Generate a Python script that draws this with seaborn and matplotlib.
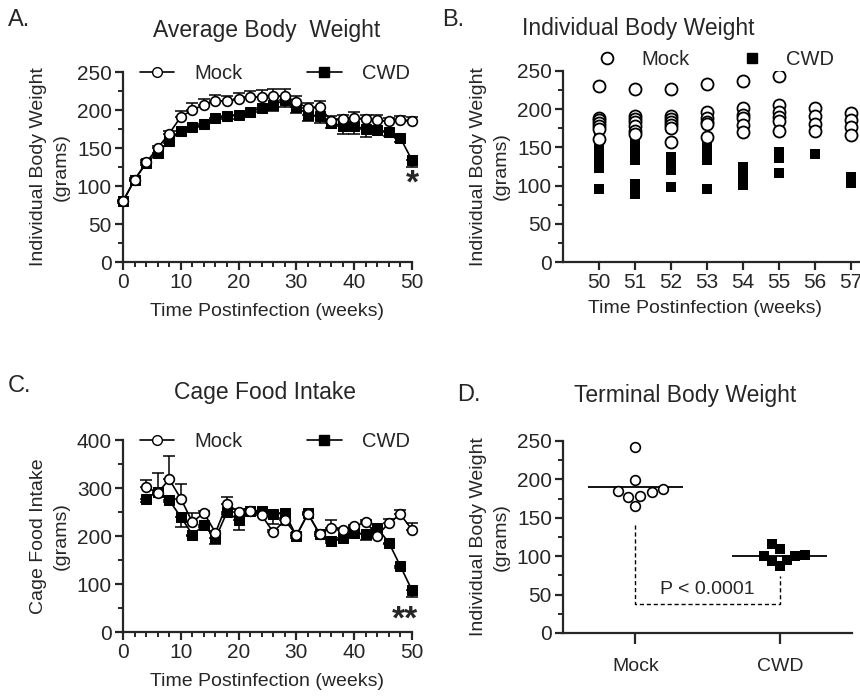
import matplotlib
matplotlib.use("Agg")
import matplotlib.pyplot as plt
from matplotlib.lines import Line2D
from matplotlib.ticker import MultipleLocator
import numpy as np
import pandas as pd
import seaborn as sns

# Panel A - average body weight (grams), one-sided SEM
weeks_a = list(range(0, 51, 2))
mock_a = [80, 108, 131, 150, 169, 191, 200, 207, 212, 212, 214, 217, 217, 218, 218, 211,
          202, 204, 186, 188, 190, 188, 187, 185, 187, 186]
mock_a_err = [2, 2, 3, 3, 4, 8, 9, 8, 8, 7, 8, 8, 9, 9, 9, 8, 7, 8, 6, 6, 7, 6, 6, 5, 5, 5]
cwd_a = [80, 108, 130, 144, 159, 173, 177, 181, 189, 192, 193, 197, 203, 207, 213, 204,
         194, 192, 183, 179, 179, 175, 174, 171, 163, 134]
cwd_a_err = [2, 2, 3, 3, 3, 4, 5, 4, 4, 4, 5, 5, 6, 8, 9, 8, 8, 9, 7, 10, 10, 10, 6, 5, 5, 9]

# Panel B - individual body weight at end point weeks
weeks_b = [50, 51, 52, 53, 54, 55, 56, 57]
mock_b = [
    [230, 189, 186, 182, 178, 174, 161],
    [227, 191, 187, 183, 178, 172, 168],
    [226, 191, 187, 183, 179, 175, 157],
    [233, 196, 189, 183, 180, 164],
    [237, 201, 193, 188, 179, 170],
    [243, 205, 196, 190, 185, 171],
    [201, 191, 181, 171],
    [195, 186, 177, 166],
]
cwd_b = [
    [176, 172, 154, 149, 144, 135, 123, 96],
    [159, 155, 146, 133, 102, 89],
    [137, 133, 120, 98],
    [157, 151, 145, 138, 133, 96],
    [124, 114, 101],
    [144, 136, 117],
    [141],
    [111, 104],
]

# Panel C - cage food intake (grams)
weeks_c = list(range(4, 51, 2))
mock_c = [302, 290, 318, 278, 229, 248, 207, 267, 250, 253, 243, 208, 233, 202, 246, 205,
          217, 213, 220, 229, 201, 227, 245, 213]
mock_c_err = [14, 42, 48, 31, 19, 4, 4, 15, 7, 3, 4, 4, 4, 4, 3, 3, 17, 3, 3, 4, 3, 8, 9, 14]
cwd_c = [278, 292, 274, 240, 203, 222, 195, 250, 233, 253, 253, 245, 248, 200, 247, 204,
         189, 195, 206, 205, 217, 186, 137, 87]
cwd_c_err = [8, 4, 4, 22, 4, 4, 12, 4, 20, 3, 3, 19, 25, 4, 3, 3, 4, 4, 4, 14, 3, 3, 4, 15]

# Panel D - terminal body weight
groups_d = ["Mock", "CWD"]
mock_d = [242, 199, 185, 179, 183, 187, 177, 165]
cwd_d = [100, 95, 116, 87, 110, 94, 100, 101]

sns.set_style("ticks")
plt.rcParams["font.family"] = ["Liberation Sans", "DejaVu Sans"]
plt.rcParams["axes.linewidth"] = 1.6

TICK_FS = 15
LABEL_FS = 14
TITLE_FS = 16.5
LETTER_FS = 17

fig = plt.figure(figsize=(8.6, 6.97), dpi=100)
W, H = 860, 697


def add_axes_px(left, top, right, bottom):
    return fig.add_axes([left / W, 1 - bottom / H, (right - left) / W, (bottom - top) / H])


def style_axes(ax):
    sns.despine(ax=ax)
    ax.tick_params(which="major", direction="out", length=6, width=1.6, labelsize=TICK_FS, pad=2)
    ax.tick_params(which="minor", direction="out", length=3.5, width=1.4)
    ax.set_facecolor("white")


def ylabel(ax, text):
    ax.set_ylabel(text, fontsize=LABEL_FS, labelpad=5, linespacing=1.45)


def timecourse(ax, weeks, mock, mock_err, cwd, cwd_err):
    weeks = np.array(weeks)
    ax.errorbar(weeks, mock, yerr=[np.zeros(len(mock)), mock_err], fmt="none",
                ecolor="black", elinewidth=1.1, capsize=4, capthick=1.1, zorder=2, clip_on=False)
    ax.errorbar(weeks, cwd, yerr=[cwd_err, np.zeros(len(cwd))], fmt="none",
                ecolor="black", elinewidth=1.1, capsize=4, capthick=1.1, zorder=2, clip_on=False)
    df_m = pd.DataFrame({"week": weeks, "value": mock})
    df_c = pd.DataFrame({"week": weeks, "value": cwd})
    sns.lineplot(data=df_c, x="week", y="value", ax=ax, color="black", lw=1.2,
                 marker="s", markersize=7, markerfacecolor="black", markeredgecolor="black",
                 zorder=3, clip_on=False)
    sns.lineplot(data=df_m, x="week", y="value", ax=ax, color="black", lw=1.2,
                 marker="o", markersize=7, markerfacecolor="white", markeredgecolor="black",
                 markeredgewidth=1.2, zorder=4, clip_on=False)
    handles = [
        Line2D([], [], color="black", lw=1.2, marker="o", markersize=7,
               markerfacecolor="white", markeredgecolor="black"),
        Line2D([], [], color="black", lw=1.2, marker="s", markersize=7,
               markerfacecolor="black", markeredgecolor="black"),
    ]
    ax.legend(handles, ["Mock", "CWD"], ncol=2, frameon=False, fontsize=14.5,
              loc="lower left", bbox_to_anchor=(0.03, 0.90, 0.99, 0.1), mode="expand",
              handlelength=1.7, handletextpad=1.0, borderaxespad=0)
    ax.set_xlim(0, 50)
    ax.xaxis.set_major_locator(MultipleLocator(10))
    ax.xaxis.set_minor_locator(MultipleLocator(2))
    ax.set_xlabel("Time Postinfection (weeks)", fontsize=LABEL_FS, labelpad=8)


# ---- Panel A ----
ax_a = add_axes_px(123, 72, 412, 262)
timecourse(ax_a, weeks_a, mock_a, mock_a_err, cwd_a, cwd_a_err)
ax_a.set_ylim(0, 250)
ax_a.yaxis.set_major_locator(MultipleLocator(50))
ax_a.yaxis.set_minor_locator(MultipleLocator(25))
ylabel(ax_a, "Individual Body Weight\n(grams)")
ax_a.text(50, 103, "*", ha="center", va="center", fontsize=24, fontweight="bold")
style_axes(ax_a)

# ---- Panel B ----
ax_b = add_axes_px(563, 71, 887, 262)
rows = []
for wk, vals in zip(weeks_b, mock_b):
    rows += [{"week": wk, "value": v, "group": "Mock"} for v in vals]
for wk, vals in zip(weeks_b, cwd_b):
    rows += [{"week": wk, "value": v, "group": "CWD"} for v in vals]
df_b = pd.DataFrame(rows)
sns.scatterplot(data=df_b[df_b.group == "Mock"], x="week", y="value", ax=ax_b, marker="o",
                s=75, facecolor="white", edgecolor="black", linewidth=1.3, zorder=3, legend=False)
sns.scatterplot(data=df_b[df_b.group == "CWD"], x="week", y="value", ax=ax_b, marker="s",
                s=60, color="black", edgecolor="black", linewidth=0, zorder=2, legend=False)
ax_b.set_xlim(49, 58)
ax_b.set_ylim(0, 250)
ax_b.set_xticks(weeks_b)
ax_b.yaxis.set_major_locator(MultipleLocator(50))
ax_b.yaxis.set_minor_locator(MultipleLocator(25))
ylabel(ax_b, "Individual Body Weight\n(grams)")
ax_b.set_xlabel("Time Postinfection (weeks)", fontsize=LABEL_FS)
ax_b.xaxis.set_label_coords((705 - 563) / (887 - 563), -0.2)
handles_b = [
    Line2D([], [], lw=0, marker="o", markersize=8.5, markerfacecolor="white",
           markeredgecolor="black", markeredgewidth=1.3),
    Line2D([], [], lw=0, marker="s", markersize=7.5, markerfacecolor="black",
           markeredgecolor="black"),
]
ax_b.legend(handles_b, ["Mock", "CWD"], ncol=2, frameon=False, fontsize=14.5,
            loc="center left", bbox_to_anchor=(0.08, 1.06), handlelength=1.0,
            columnspacing=2.6, handletextpad=1.2, borderaxespad=0)
style_axes(ax_b)

# ---- Panel C ----
ax_c = add_axes_px(123, 440, 412, 632)
timecourse(ax_c, weeks_c, mock_c, mock_c_err, cwd_c, cwd_c_err)
ax_c.set_ylim(0, 400)
ax_c.yaxis.set_major_locator(MultipleLocator(100))
ax_c.yaxis.set_minor_locator(MultipleLocator(50))
ylabel(ax_c, "Cage Food Intake\n(grams)")
ax_c.text(48.7, 25, "**", ha="center", va="center", fontsize=24, fontweight="bold")
style_axes(ax_c)

# ---- Panel D ----
ax_d = add_axes_px(563, 441, 852, 633)
df_d = pd.DataFrame({
    "group": ["Mock"] * len(mock_d) + ["CWD"] * len(cwd_d),
    "value": mock_d + cwd_d,
})
sns.swarmplot(data=df_d[df_d.group == "Mock"], x="group", y="value", order=groups_d, ax=ax_d,
              marker="o", size=7, color="white", edgecolor="black", linewidth=1.2, zorder=3)
sns.swarmplot(data=df_d[df_d.group == "CWD"], x="group", y="value", order=groups_d, ax=ax_d,
              marker="s", size=6.5, color="black", linewidth=0, zorder=3)
for i, vals in enumerate([mock_d, cwd_d]):
    ax_d.hlines(np.mean(vals), i - 0.33, i + 0.33, color="black", lw=1.3, zorder=2)
ax_d.plot([0, 0, 1, 1], [140, 38, 38, 74], color="black", lw=1.0, ls=(0, (3, 2)))
ax_d.text(0.5, 46, "P < 0.0001", ha="center", va="bottom", fontsize=14)
ax_d.set_xlim(-0.5, 1.5)
ax_d.set_ylim(0, 250)
ax_d.yaxis.set_major_locator(MultipleLocator(50))
ax_d.yaxis.set_minor_locator(MultipleLocator(25))
ax_d.set_xlabel("")
ylabel(ax_d, "Individual Body Weight\n(grams)")
style_axes(ax_d)
ax_d.tick_params(axis="x", length=8, pad=10, labelsize=14)

# titles and panel letters
fig.text(267 / W, 1 - 30 / H, "Average Body  Weight", ha="center", va="center", fontsize=TITLE_FS)
fig.text(638 / W, 1 - 28 / H, "Individual Body Weight", ha="center", va="center", fontsize=TITLE_FS)
fig.text(265 / W, 1 - 393 / H, "Cage Food Intake", ha="center", va="center", fontsize=TITLE_FS)
fig.text(685 / W, 1 - 395 / H, "Terminal Body Weight", ha="center", va="center", fontsize=TITLE_FS)
fig.text(8 / W, 1 - 20 / H, "A.", ha="left", va="center", fontsize=LETTER_FS)
fig.text(442 / W, 1 - 20 / H, "B.", ha="left", va="center", fontsize=LETTER_FS)
fig.text(8 / W, 1 - 386 / H, "C.", ha="left", va="center", fontsize=LETTER_FS)
fig.text(457 / W, 1 - 395 / H, "D.", ha="left", va="center", fontsize=LETTER_FS)

fig.savefig("out.png", dpi=100, facecolor="white")
